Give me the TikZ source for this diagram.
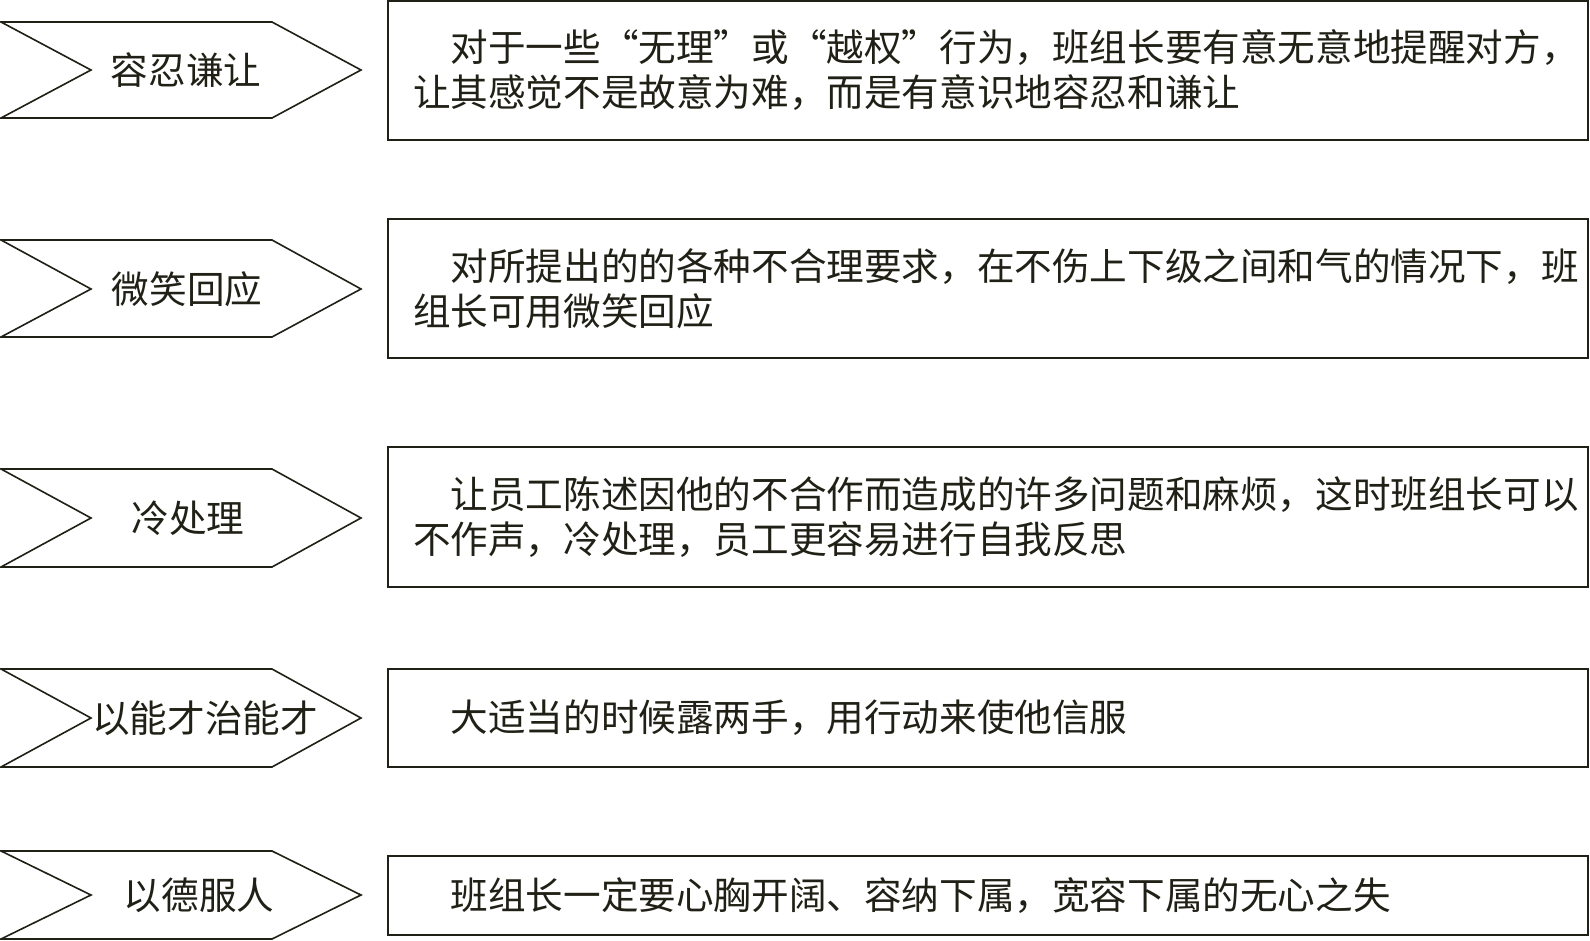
\documentclass[tikz,border=0pt]{standalone}
\usepackage{fontspec}
\setmainfont{Noto Sans CJK SC}
\usetikzlibrary{positioning}

\begin{document}
\begin{tikzpicture}[
    x=1pt, y=-1pt,
    every node/.style={font=\fontsize{37.6}{45}\selectfont, text=ink},
    chevron/.style={draw=ink, line width=1.6pt, line join=miter},
    tag/.style={inner sep=0pt},
    textbox/.style={draw=ink, line width=1.6pt, rectangle, minimum width=1200pt,
        text width=1150pt, inner xsep=25pt, inner ysep=0pt, align=left}
]

% Colors
\definecolor{ink}{RGB}{32, 32, 22}

\useasboundingbox[fill=white] (0,0) rectangle (1590,941);

% Chevrons
\draw[chevron] (1,22) -- (272,22) -- (361,70) -- (272,118) -- (1,118) -- (91,70) -- cycle;
\draw[chevron] (1,240) -- (272,240) -- (361,289) -- (272,337) -- (1,337) -- (91,289) -- cycle;
\draw[chevron] (1,469) -- (272,469) -- (361,518) -- (272,567) -- (1,567) -- (91,518) -- cycle;
\draw[chevron] (1,669) -- (272,669) -- (361,718) -- (272,767) -- (1,767) -- (91,718) -- cycle;
\draw[chevron] (1,851) -- (272,851) -- (361,895) -- (272,939) -- (1,939) -- (91,895) -- cycle;

% Nodes
\node (tolerate) [tag] at (186,70) {容忍谦让};
\node (smile) [tag] at (187,289) {微笑回应};
\node (cool) [tag] at (188,518) {冷处理};
\node (ability) [tag] at (205,718) {以能才治能才};
\node (virtue) [tag] at (199,895) {以德服人};

\node (tolerate_box) [textbox, minimum height=139pt] at (988,70.5)
    {\hspace*{1em}对于一些“无理”或“越权”行为，班组长要有意无意地提醒对方，\\让其感觉不是故意为难，而是有意识地容忍和谦让};
\node (smile_box) [textbox, minimum height=139pt] at (988,288.5)
    {\hspace*{1em}对所提出的的各种不合理要求，在不伤上下级之间和气的情况下，班\\组长可用微笑回应};
\node (cool_box) [textbox, minimum height=140pt] at (988,517)
    {\hspace*{1em}让员工陈述因他的不合作而造成的许多问题和麻烦，这时班组长可以\\不作声，冷处理，员工更容易进行自我反思};
\node (ability_box) [textbox, minimum height=98pt] at (988,718)
    {\hspace*{1em}大适当的时候露两手，用行动来使他信服};
\node (virtue_box) [textbox, minimum height=79pt] at (988,895.5)
    {\hspace*{1em}班组长一定要心胸开阔、容纳下属，宽容下属的无心之失};

\end{tikzpicture}
\end{document}
